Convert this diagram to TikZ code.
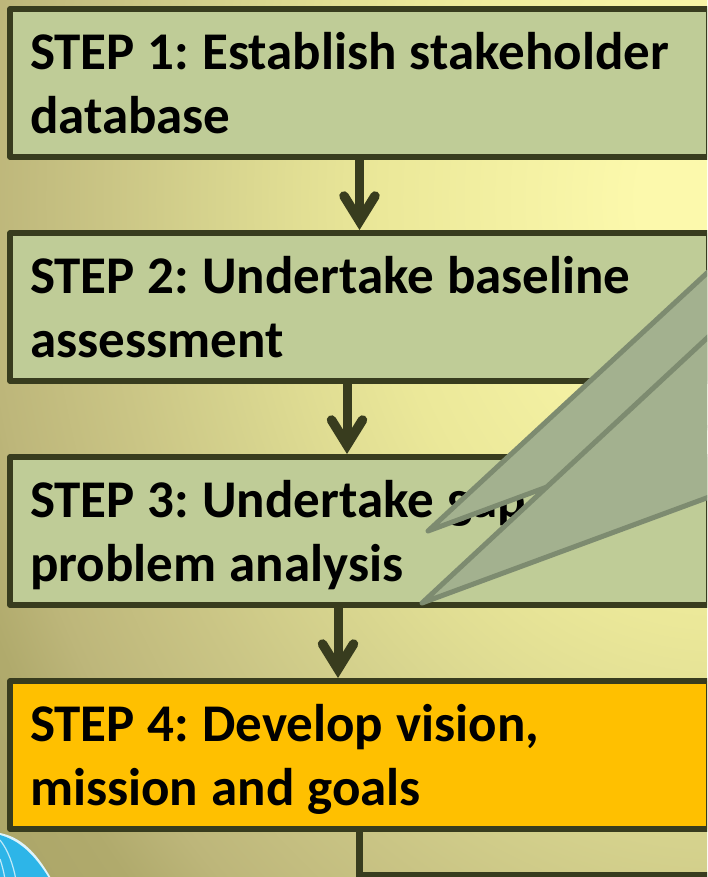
\documentclass[tikz,border=0pt]{standalone}
\usepackage{fontspec}
\setmainfont{Carlito}
\definecolor{glow0}{HTML}{FCF9AC}
\definecolor{glow1}{HTML}{EBE899}
\definecolor{glow2}{HTML}{E0DD93}
\definecolor{glow3}{HTML}{D5D28D}
\definecolor{glow4}{HTML}{CAC585}
\definecolor{glow5}{HTML}{BDB67A}
\definecolor{glow6}{HTML}{B0AA6C}
\definecolor{glow7}{HTML}{A9A366}
\pgfdeclareradialshading{bgglow}{\pgfpoint{0bp}{0bp}}{
  color(0bp)=(glow0);
  color(2bp)=(glow0);
  color(8.5bp)=(glow1);
  color(10.8bp)=(glow2);
  color(12.9bp)=(glow3);
  color(15.3bp)=(glow4);
  color(18.4bp)=(glow5);
  color(20.1bp)=(glow6);
  color(23.75bp)=(glow7);
  color(50bp)=(glow7)}
\definecolor{stepedge}{HTML}{383C1E}
\definecolor{stepfill}{HTML}{BFCC97}
\definecolor{stepkey}{HTML}{FFC000}
\definecolor{calloutfill}{HTML}{A3B18F}
\definecolor{calloutedge}{HTML}{7D8B70}
\definecolor{globefill}{HTML}{2DB5E8}
\newcommand{\stepfont}{\fontsize{53}{64}\selectfont\bfseries\frenchspacing\spaceskip 13pt\xspaceskip 13pt\relax}
\tikzset{
  stepbox/.style={draw=stepedge,line width=5.5pt,line join=round,fill=stepfill,rectangle,outer sep=0pt,
    inner xsep=20pt,inner ysep=0pt,text width=659pt,minimum height=148pt,align=left,
    font=\stepfont,text=black},
  flowarrow/.style={draw=stepedge,line width=9pt},
  arrowwing/.style={draw=stepedge,line width=9.5pt,line cap=round,line join=miter},
  wedge/.style={draw=calloutedge,fill=calloutfill,line width=5pt,line join=round}
}
\begin{document}
\begin{tikzpicture}[x=1pt,y=-1pt]
\useasboundingbox (0,0) rectangle (707,877);
\begin{scope}
\clip (0,0) rectangle (707,877);
\shade[shading=bgglow] (720,200) ellipse (1000 and 1250);
\node[stepbox] (s1) at (359.5,83) {\stepfont STEP 1: Establish stakeholder\\database};
\node[stepbox] (s2) at (359.5,307) {\stepfont STEP 2: Undertake baseline\\assessment};
\node[stepbox] (s3) at (359.5,531) {\stepfont STEP 3: Undertake gap\\\smash{problem analysis}};
\node[stepbox,fill=stepkey] (s4) at (359.5,755) {\stepfont STEP 4: Develop vision,\\\smash{mission and goals}};
% connectors
\coordinate (a1) at (359.5,230);
\coordinate (a2) at (347,454);
\coordinate (a3) at (338,678);
\draw[flowarrow] (s1.south -| a1) -- ([yshift=9pt]a1);
\draw[arrowwing] ([xshift=-15.5pt,yshift=34pt]a1) -- ([yshift=9pt]a1) -- ([xshift=15.5pt,yshift=34pt]a1);
\draw[flowarrow] (s2.south -| a2) -- ([yshift=9pt]a2);
\draw[arrowwing] ([xshift=-15.5pt,yshift=34pt]a2) -- ([yshift=9pt]a2) -- ([xshift=15.5pt,yshift=34pt]a2);
\draw[flowarrow] (s3.south -| a3) -- ([yshift=9pt]a3);
\draw[arrowwing] ([xshift=-15.5pt,yshift=34pt]a3) -- ([yshift=9pt]a3) -- ([xshift=15.5pt,yshift=34pt]a3);
\coordinate (b1) at (359.5,875);
\coordinate (b2) at (720,875);
\draw[stepedge,line width=6.5pt] (s4.south -| b1) -- (b1) -- (b2);
% callouts
\draw[wedge] (428,531) -- (720,261) -- (720,423) -- cycle;
\draw[wedge] (422,603) -- (720,326) -- (720,493) -- cycle;
% globe
\fill[white!85!globefill] (0,833) .. controls (20,837) and (36,851) .. (52,880) -- (0,880) -- cycle;
\fill[globefill] (0,835) .. controls (18,840) and (34,853) .. (50,880) -- (0,880) -- cycle;
\draw[white!70!globefill,line width=1.2pt] (0,840) .. controls (8,850) and (13,864) .. (16,880);
\draw[white!70!globefill,line width=1.2pt] (0,859) .. controls (2,865) and (4,872) .. (5,880);
\end{scope}
\end{tikzpicture}
\end{document}
